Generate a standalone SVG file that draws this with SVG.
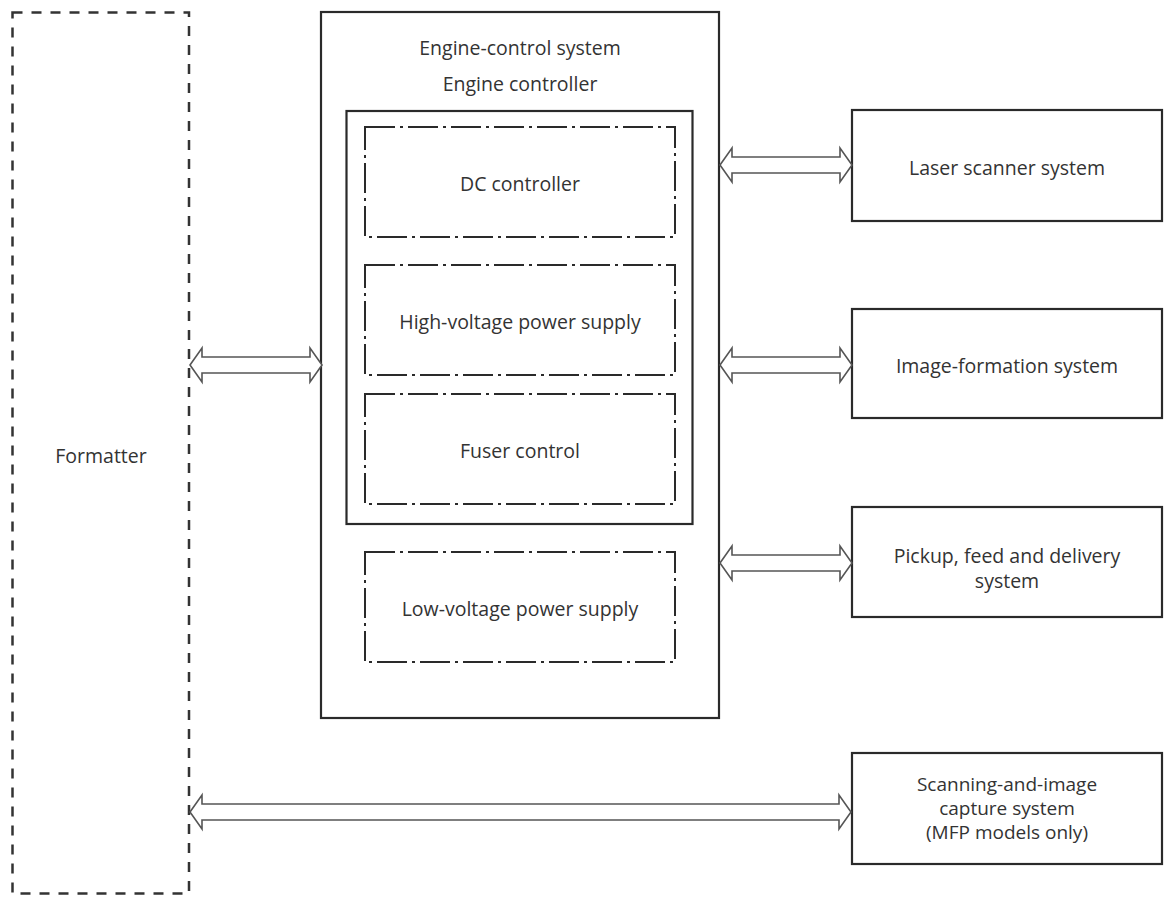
<svg xmlns="http://www.w3.org/2000/svg" width="1167" height="897" viewBox="0 0 1167 897">
<style>
.solid{fill:#fff;stroke:#2a2a2a;stroke-width:2.2}
.dash{fill:none;stroke:#333;stroke-width:2.5;stroke-dasharray:10 9}
.dd{fill:none;stroke:#2a2a2a;stroke-width:2;stroke-dasharray:30 5 3 5}
.arr{fill:#fff;stroke:#555;stroke-width:1.6;stroke-linejoin:miter}
text{font-family:"Open Sans","Noto Sans",sans-serif;font-size:19.5px;fill:#333;text-anchor:middle;dominant-baseline:central}
.sm{font-size:19px}
</style>
<rect width="1167" height="897" fill="#fff"/>
<g id="formatter">
<rect class="dash" x="12.5" y="12.5" width="176.5" height="881"/>
<text x="101" y="455">Formatter</text>
</g>
<g id="engine-control-system">
<rect class="solid" x="321" y="12" width="398" height="706"/>
<text x="520" y="47">Engine-control system</text>
<text x="520" y="83">Engine controller</text>
</g>
<g id="engine-controller">
<rect class="solid" x="346.5" y="111" width="346" height="413"/>
</g>
<g id="dc-controller">
<rect class="dd" x="365" y="127" width="310" height="110"/>
<text x="520" y="183">DC controller</text>
</g>
<g id="high-voltage">
<rect class="dd" x="365" y="265" width="310" height="110"/>
<text x="520" y="321">High-voltage power supply</text>
</g>
<g id="fuser-control">
<rect class="dd" x="365" y="394" width="310" height="110"/>
<text x="520" y="450">Fuser control</text>
</g>
<g id="low-voltage">
<rect class="dd" x="365" y="552" width="310" height="110"/>
<text x="520" y="608">Low-voltage power supply</text>
</g>
<g id="laser-scanner">
<rect class="solid" x="852" y="110" width="310" height="111"/>
<text x="1007" y="167">Laser scanner system</text>
</g>
<g id="image-formation">
<rect class="solid" x="852" y="309" width="310" height="109"/>
<text x="1007" y="365">Image-formation system</text>
</g>
<g id="pickup-feed-delivery">
<rect class="solid" x="852" y="507" width="310" height="110"/>
<text x="1007" y="555">Pickup, feed and delivery</text>
<text x="1007" y="580">system</text>
</g>
<g id="scanning-image-capture">
<rect class="solid" x="852" y="753" width="310" height="111"/>
<text class="sm" x="1007" y="784">Scanning-and-image</text>
<text class="sm" x="1007" y="808">capture system</text>
<text class="sm" x="1007" y="832">(MFP models only)</text>
</g>
<g id="connectors">
<polygon class="arr" points="190,365 202,348 202,357 310,357 310,348 322,365 310,382 310,373 202,373 202,382"/>
<polygon class="arr" points="720,165 732,148 732,157 840,157 840,148 852,165 840,182 840,173 732,173 732,182"/>
<polygon class="arr" points="720,365 732,348 732,357 840,357 840,348 852,365 840,382 840,373 732,373 732,382"/>
<polygon class="arr" points="720,563 732,546 732,555 840,555 840,546 852,563 840,580 840,571 732,571 732,580"/>
<polygon class="arr" points="190,812 202,795 202,804 839,804 839,795 851,812 839,829 839,820 202,820 202,829"/>
</g>
</svg>
